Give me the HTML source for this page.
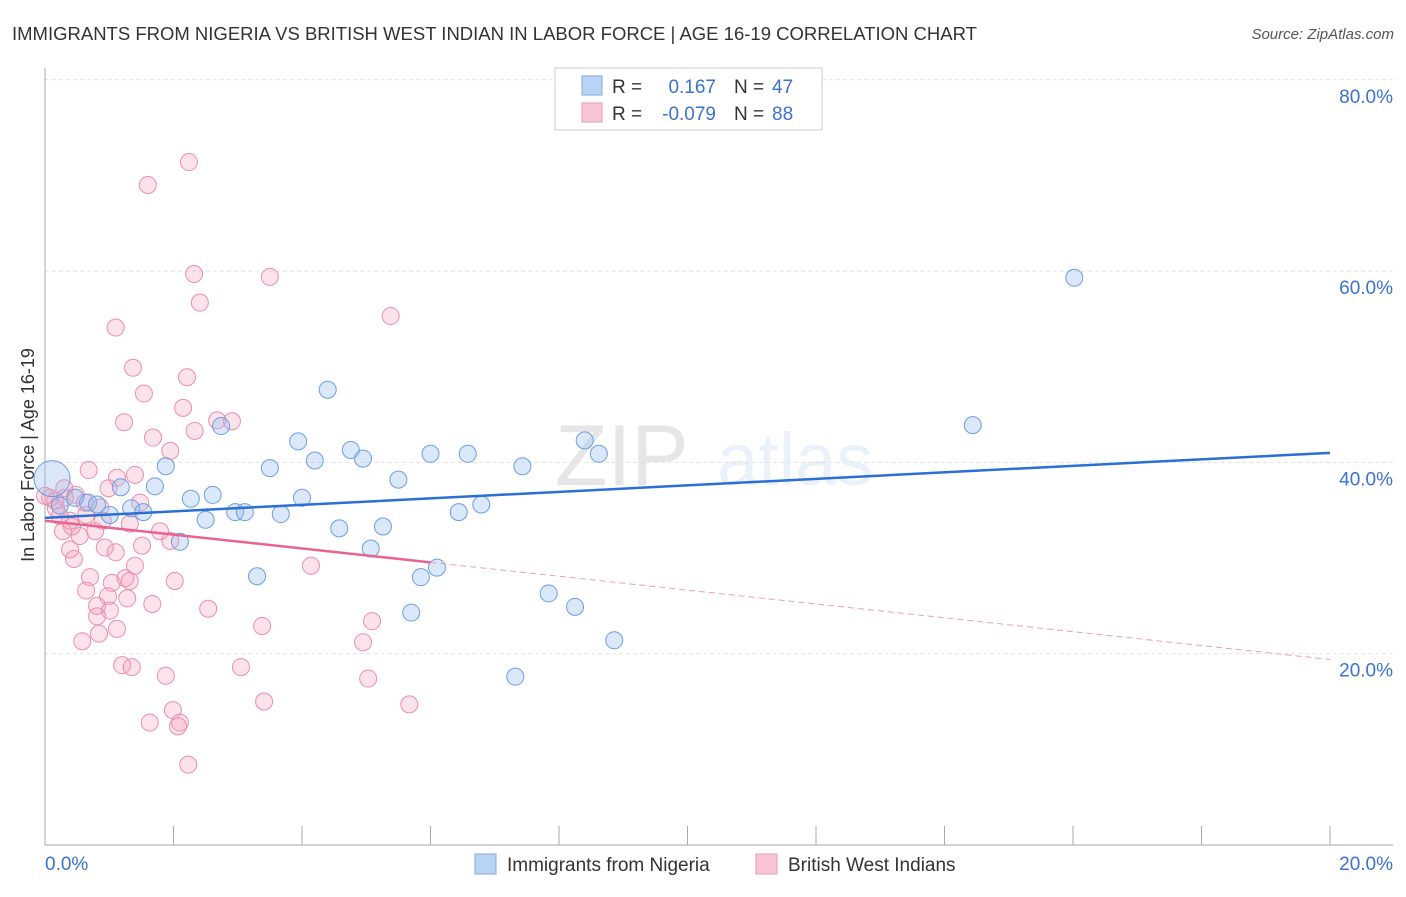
<!DOCTYPE html>
<html><head><meta charset="utf-8"><style>
body{margin:0;background:#fff;font-family:"Liberation Sans",sans-serif}
svg text{font-family:"Liberation Sans",sans-serif}
</style></head><body>
<svg id="chart" width="1406" height="892" xmlns="http://www.w3.org/2000/svg">
<text x="12" y="40" font-size="18.5" fill="#333">IMMIGRANTS FROM NIGERIA VS BRITISH WEST INDIAN IN LABOR FORCE | AGE 16-19 CORRELATION CHART</text>
<text x="1394" y="39" font-size="15" fill="#555" font-style="italic" text-anchor="end">Source: ZipAtlas.com</text>
<g opacity="0.13">
<text x="555" y="485" font-size="86" font-family="Liberation Serif" fill="#444">ZIP</text>
<text x="717" y="485" font-size="74" fill="#6a9ae0">atlas</text></g>
<g id="grid"></g><g id="axes"></g><g id="pts"></g><g id="trend"></g>
<text transform="translate(34,455) rotate(-90)" font-size="18" fill="#333" text-anchor="middle">In Labor Force | Age 16-19</text>
<g>
<rect x="555" y="68" width="267" height="62" fill="#fff" stroke="#ccc"/>
<rect x="582" y="76" width="20" height="19" fill="#b9d3f4" stroke="#7aa8e8"/>
<rect x="582" y="103" width="20" height="19" fill="#f9c5d4" stroke="#eb9ab2"/>
<text x="612" y="93" font-size="19" fill="#333">R =</text><text x="716" y="93" font-size="19" fill="#3a72d0" text-anchor="end">0.167</text>
<text x="734" y="93" font-size="19" fill="#333">N =</text><text x="772" y="93" font-size="19" fill="#3a72d0">47</text>
<text x="612" y="120" font-size="19" fill="#333">R =</text><text x="716" y="120" font-size="19" fill="#3a72d0" text-anchor="end">-0.079</text>
<text x="734" y="120" font-size="19" fill="#333">N =</text><text x="772" y="120" font-size="19" fill="#3a72d0">88</text>
</g>
<g>
<rect x="475" y="854" width="21" height="20" fill="#b9d3f4" stroke="#7aa8e8"/>
<text x="507" y="871" font-size="19" fill="#333">Immigrants from Nigeria</text>
<rect x="756" y="854" width="21" height="20" fill="#f9c5d4" stroke="#eb9ab2"/>
<text x="788" y="871" font-size="19" fill="#333">British West Indians</text>
</g>
</svg>
<script>
const xTicksLabels=["0.0%","20.0%"];
const yTicks=[20,40,60,80];
const blueX=[0.11,0.47,0.67,0.81,1.18,1.34,1.53,1.71,1.88,2.1,2.27,2.5,2.61,2.74,2.96,3.11,3.3,3.5,3.67,3.94,4.0,4.2,4.4,4.58,4.76,4.95,5.07,5.26,5.5,5.7,5.85,6.0,6.1,6.44,6.58,6.79,7.32,7.43,7.84,8.25,8.4,8.62,8.86,14.44,16.02,0.23,1.01];
const blueY=[38.3,36.3,35.8,35.6,37.4,35.2,34.8,37.5,39.6,31.7,36.2,34.0,36.6,43.8,34.8,34.8,28.1,39.4,34.6,42.2,36.3,40.2,47.6,33.1,41.3,40.4,31.0,33.3,38.2,24.3,28.0,40.9,29.0,34.8,40.9,35.6,17.6,39.6,26.3,24.9,42.3,40.9,21.4,43.9,59.3,35.5,34.5];
const pinkX=[1.6,2.24,2.32,3.5,2.41,1.1,5.38,1.37,2.21,1.54,2.15,1.23,2.68,2.91,1.68,1.95,0.68,1.4,1.12,0.99,0.3,0.48,0.08,0.16,0.0,0.23,0.39,0.64,0.9,1.32,0.28,0.54,1.95,1.51,0.93,1.1,0.45,0.39,1.4,4.14,0.7,2.02,1.25,1.32,0.64,1.04,0.98,1.28,1.67,2.54,0.81,1.01,0.81,1.12,3.38,5.09,0.84,0.58,4.95,1.2,1.35,3.05,1.88,5.03,3.41,5.67,1.99,1.63,2.1,2.07,2.23,2.33,0.62,0.86,0.17,0.31,1.48,1.79,0.42,0.78];
const pinkY=[69.0,71.4,59.7,59.4,56.7,54.1,55.3,49.9,48.9,47.2,45.7,44.2,44.4,44.3,42.6,41.2,39.2,38.7,38.4,37.3,37.3,36.6,36.3,36.0,36.5,34.4,33.9,34.5,33.9,33.6,32.8,32.3,31.8,31.3,31.1,30.6,29.9,30.9,29.2,29.2,28.0,27.6,27.9,27.6,26.6,27.4,26.0,25.8,25.2,24.7,25.0,24.5,23.9,22.6,22.9,23.4,22.1,21.3,21.2,18.8,18.6,18.6,17.7,17.4,15.0,14.7,14.1,12.8,12.8,12.4,8.4,43.3,35.8,35.3,35.2,36.3,35.8,32.8,33.3,32.8];
const blueTrend=[34.2,41.0];
const pinkTrend=[33.9,19.4];
const pinkSolidEnd=6.0;
const X=v=>45+v/20*1285, Y=v=>845-v/20*191.3;
const NS="http://www.w3.org/2000/svg";
function mk(t,a,p){const e=document.createElementNS(NS,t);for(const k in a)e.setAttribute(k,a[k]);document.getElementById(p).appendChild(e);return e;}
yTicks.forEach(t=>{
 const g=mk('line',{x1:45,x2:1393,y1:Y(t),y2:Y(t),stroke:'#e2e2e2','stroke-dasharray':'4,3'},'grid');
 
 
 const l=mk('text',{x:1393,y:Y(t)+23,'font-size':19,fill:'#3a72d0','text-anchor':'end'},'axes');
 l.textContent=t.toFixed(1)+'%';
 
 
});
const ax=mk('line',{x1:45,x2:45,y1:68,y2:845,stroke:'#aaa'},'axes');


const bx=mk('line',{x1:45,x2:1393,y1:845,y2:845,stroke:'#aaa'},'axes');


for(let i=1;i<=10;i++){const t=mk('line',{x1:X(i*2),x2:X(i*2),y1:826,y2:845,stroke:'#aaa'},'axes');
 
 }
[[0,'start',45],[20,'end',1393]].forEach((d,i)=>{const l=mk('text',{x:d[2],y:870,'font-size':19,fill:'#3a72d0','text-anchor':d[1]},'axes');l.textContent=xTicksLabels[i];
 
 });
pinkX.forEach((x,i)=>{const c=mk('circle',{cx:X(x),cy:Y(pinkY[i]),r:8.5,fill:'rgba(245,160,185,0.3)',stroke:'#eb8fac','stroke-width':1},'pts');
 
 });
blueX.forEach((x,i)=>{const c=mk('circle',{cx:X(x),cy:Y(blueY[i]),r:i==0?18:8.5,fill:'rgba(150,190,240,0.35)',stroke:'#6b9fe3','stroke-width':1},'pts');
 
 });
const bt=mk('line',{x1:X(0),y1:Y(blueTrend[0]),x2:X(20),y2:Y(blueTrend[1]),stroke:'#2a6fd4','stroke-width':2.5},'trend');


const pAt=x=>pinkTrend[0]+(pinkTrend[1]-pinkTrend[0])*x/20;
const ps=mk('line',{x1:X(0),y1:Y(pinkTrend[0]),x2:X(pinkSolidEnd),y2:Y(pAt(pinkSolidEnd)),stroke:'#e8638f','stroke-width':2.5},'trend');


const pd=mk('line',{x1:X(pinkSolidEnd),y1:Y(pAt(pinkSolidEnd)),x2:X(20),y2:Y(pinkTrend[1]),stroke:'#e8a0b8','stroke-width':1,'stroke-dasharray':'6,4'},'trend');


</script>
</body></html>
